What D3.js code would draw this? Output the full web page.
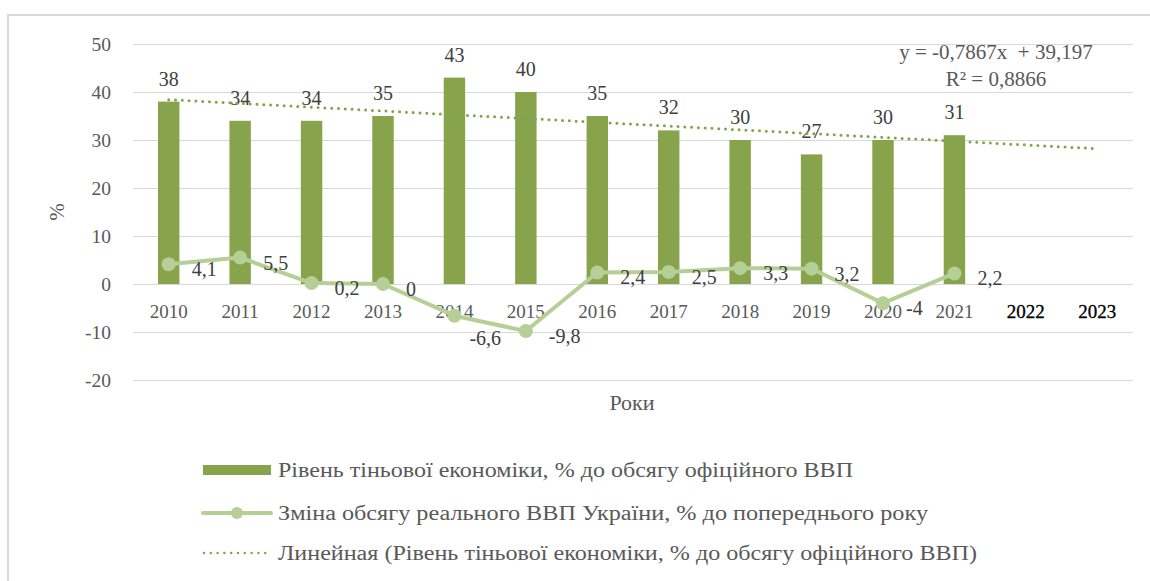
<!DOCTYPE html>
<html>
<head>
<meta charset="utf-8">
<script src="https://cdn.jsdelivr.net/npm/d3@7"></script>
<style>
  body { margin: 0; background: #fff; }
</style>
</head>
<body>
<div id="container"></div>
<script>
// data
var years = ['2010', '2011', '2012', '2013', '2014', '2015', '2016', '2017', '2018', '2019', '2020', '2021', '2022', '2023'];
var shadowEconomy = [38, 34, 34, 35, 43, 40, 35, 32, 30, 27, 30, 31];
var gdpChange = [4.1, 5.5, 0.2, 0, -6.6, -9.8, 2.4, 2.5, 3.3, 3.2, -4, 2.2];
var yTicks = [-20, -10, 0, 10, 20, 30, 40, 50];
var trendSlope = -0.7867,
    trendIntercept = 39.197;
var trendText = ['y = -0,7867x  + 39,197', 'R² = 0,8866'];
var legendLabels = [
  'Рівень тіньової економіки, % до обсягу офіційного ВВП',
  'Зміна  обсягу реального ВВП України, % до попереднього року',
  'Линейная (Рівень тіньової економіки, % до обсягу офіційного ВВП)'
];

var width = 1150,
    height = 581;

var FONT = '"Liberation Serif", Tinos, "Noto Serif", "DejaVu Serif", "Times New Roman", Times, serif';
var barColor = '#87a34c',
    lineColor = '#b6cf96',
    trendColor = '#7ea64a',
    textColor = '#595959';

var fmt = function(v) { return String(v).replace('.', ','); };

var svg = d3.select('#container').append('svg')
  .attr('width', width)
  .attr('height', height)
  .attr('font-family', FONT);

// chart frame
svg.append('rect')
  .attr('x', 8).attr('y', 15)
  .attr('width', 1200).attr('height', 700)
  .attr('fill', 'none')
  .attr('stroke', '#d9d9d9')
  .attr('stroke-width', 2);

var x = d3.scaleBand()
  .domain(years)
  .range([133, 1133])
  .paddingInner(0.7)
  .paddingOuter(0.35);

var y = d3.scaleLinear()
  .domain([-20, 50])
  .range([380, 44]);

var cx = function(i) { return x(years[i]) + x.bandwidth() / 2; };

// grid + y labels
var yAxis = svg.append('g')
  .attr('transform', 'translate(133,0)')
  .call(d3.axisLeft(y).tickValues(yTicks).tickFormat(function(d) { return d; }).tickSize(-1000).tickPadding(22));
yAxis.attr('font-family', FONT);
yAxis.select('.domain').remove();
yAxis.selectAll('.tick line').attr('stroke', '#d9d9d9').attr('stroke-width', 1);
yAxis.selectAll('.tick text')
  .attr('fill', textColor)
  .attr('font-size', 19.5);

// bars
svg.selectAll('rect.bar')
  .data(shadowEconomy)
  .enter()
    .append('rect')
    .attr('class', 'bar')
    .attr('x', function(d, i) { return x(years[i]); })
    .attr('width', x.bandwidth())
    .attr('y', function(d) { return y(d); })
    .attr('height', function(d) { return y(0) - y(d); })
    .attr('fill', barColor);

// bar labels
svg.selectAll('text.barlabel')
  .data(shadowEconomy)
  .enter()
    .append('text')
    .attr('class', 'barlabel')
    .attr('x', function(d, i) { return cx(i); })
    .attr('y', function(d) { return y(d) - 16; })
    .attr('text-anchor', 'middle')
    .attr('fill', '#404040')
    .attr('font-size', 20)
    .text(function(d) { return d; });

// x axis labels
var xAxis = svg.append('g')
  .attr('transform', 'translate(0,' + y(0) + ')')
  .call(d3.axisBottom(x).tickSize(0).tickPadding(21));
xAxis.attr('font-family', FONT);
xAxis.select('.domain').remove();
xAxis.selectAll('.tick text')
  .attr('fill', function(d) { return +d > 2021 ? '#000' : textColor; })
  .attr('stroke', function(d) { return +d > 2021 ? '#000' : 'none'; })
  .attr('stroke-width', 0.3)
  .attr('font-size', 19);

// trend line (linear fit over all categories)
var trendPts = years.map(function(d, i) { return [cx(i), y(trendSlope * (i + 1) + trendIntercept)]; });
svg.append('path')
  .attr('d', d3.line()(trendPts))
  .attr('fill', 'none')
  .attr('stroke', trendColor)
  .attr('stroke-width', 3)
  .attr('stroke-linecap', 'round')
  .attr('stroke-dasharray', '0 6.8');

// gdp line
var line = d3.line()
  .x(function(d, i) { return cx(i); })
  .y(function(d) { return y(d); });

svg.append('path')
  .datum(gdpChange)
  .attr('d', line)
  .attr('fill', 'none')
  .attr('stroke', lineColor)
  .attr('stroke-width', 4)
  .attr('stroke-linejoin', 'round');

svg.selectAll('circle.pt')
  .data(gdpChange)
  .enter()
    .append('circle')
    .attr('class', 'pt')
    .attr('cx', function(d, i) { return cx(i); })
    .attr('cy', function(d) { return y(d); })
    .attr('r', 7)
    .attr('fill', lineColor);

// label for 2014 was moved below the point in the original
var nudge = { 4: [-8, 17] };
svg.selectAll('text.ptlabel')
  .data(gdpChange)
  .enter()
    .append('text')
    .attr('class', 'ptlabel')
    .attr('x', function(d, i) { return cx(i) + 23 + (nudge[i] ? nudge[i][0] : 0); })
    .attr('y', function(d, i) { return y(d) + 5 + (nudge[i] ? nudge[i][1] : 0); })
    .attr('dy', '0.35em')
    .attr('fill', '#404040')
    .attr('font-size', 20)
    .text(function(d) { return fmt(d); });

// trend equation
svg.append('text')
  .attr('x', 996).attr('y', 59)
  .attr('text-anchor', 'middle')
  .attr('fill', textColor)
  .attr('font-size', 21)
  .attr('xml:space', 'preserve')
  .style('white-space', 'pre')
  .text(trendText[0]);
svg.append('text')
  .attr('x', 996).attr('y', 86)
  .attr('text-anchor', 'middle')
  .attr('fill', textColor)
  .attr('font-size', 21)
  .text(trendText[1]);

// axis titles
svg.append('text')
  .attr('transform', 'translate(57,212) rotate(-90)')
  .attr('text-anchor', 'middle')
  .attr('dy', '0.35em')
  .attr('fill', textColor)
  .attr('font-size', 21)
  .text('%');

svg.append('text')
  .attr('x', 632).attr('y', 402)
  .attr('dy', '0.35em')
  .attr('text-anchor', 'middle')
  .attr('fill', textColor)
  .attr('font-size', 22)
  .text('Роки');

// legend
var legendY = [470, 513, 553];
var legend = svg.selectAll('g.legend')
  .data(legendLabels)
  .enter()
    .append('g')
    .attr('class', 'legend')
    .attr('transform', function(d, i) { return 'translate(0,' + legendY[i] + ')'; });

legend.filter(function(d, i) { return i === 0; })
  .append('rect')
  .attr('x', 203).attr('y', -5)
  .attr('width', 68).attr('height', 10)
  .attr('fill', barColor);

var lg2 = legend.filter(function(d, i) { return i === 1; });
lg2.append('line')
  .attr('x1', 203).attr('x2', 271)
  .attr('stroke', lineColor).attr('stroke-width', 4)
  .attr('stroke-linecap', 'round');
lg2.append('circle')
  .attr('cx', 237).attr('r', 6)
  .attr('fill', lineColor);

legend.filter(function(d, i) { return i === 2; })
  .append('line')
  .attr('x1', 204).attr('x2', 266)
  .attr('stroke', trendColor).attr('stroke-width', 2.5)
  .attr('stroke-linecap', 'round')
  .attr('stroke-dasharray', '0 6.8');

var legendEnds = [853, 928, 977];
legend.append('text')
  .attr('x', 278)
  .attr('dy', '0.35em')
  .attr('fill', textColor)
  .attr('font-size', 20)
  .attr('textLength', function(d, i) { return legendEnds[i] - 278; })
  .attr('lengthAdjust', 'spacingAndGlyphs')
  .text(function(d) { return d; });
</script>
</body>
</html>
